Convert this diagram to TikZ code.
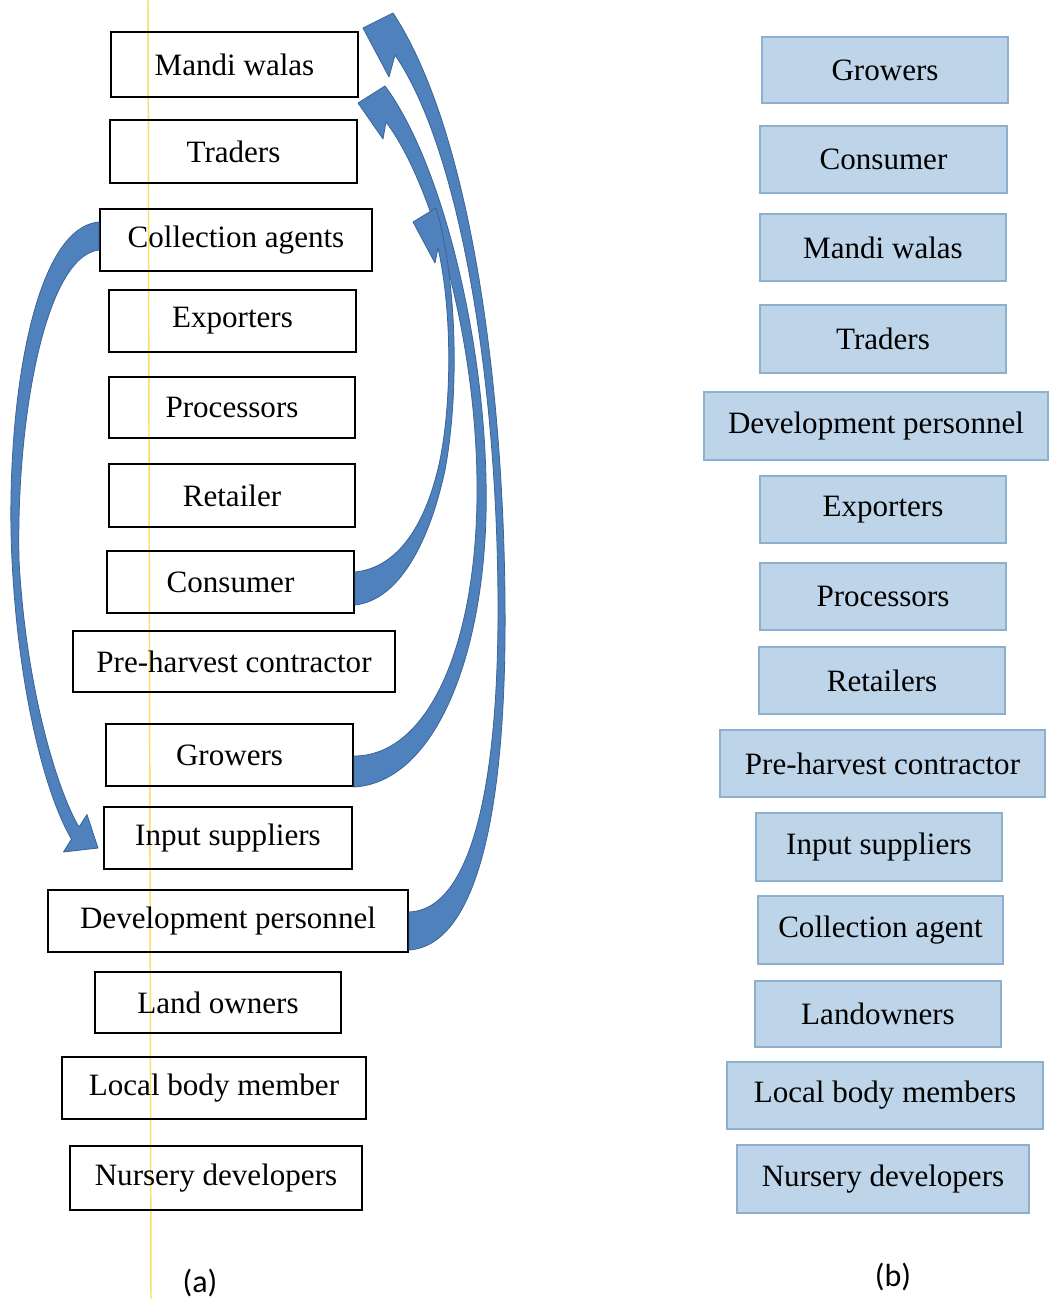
\documentclass[tikz,border=0pt]{standalone}
\usepackage{fontspec}
\setmainfont{Liberation Serif}
\newfontfamily\labfont{Carlito}
\usetikzlibrary{calc}
\definecolor{arrowblue}{RGB}{79,129,189}
\definecolor{arrowedge}{RGB}{60,100,150}
\definecolor{boxfill}{RGB}{190,213,233}
\definecolor{boxedge}{RGB}{140,176,206}
\definecolor{scanline}{RGB}{252,222,100}
\begin{document}
\begin{tikzpicture}[x=0.75pt,y=-0.75pt,
  sz/.style 2 args={minimum width=#1*0.75pt,minimum height=#2*0.75pt},
  lbox/.style={draw=black,line width=1.5pt,inner sep=0pt,font=\fontsize{23.3}{28}\selectfont},
  rbox/.style={draw=boxedge,fill=boxfill,line width=1pt,inner sep=0pt,font=\fontsize{23.3}{28}\selectfont},
  blockarrow/.style={fill=arrowblue,draw=arrowedge,line width=0.6pt,line join=round},
  caption/.style={font=\labfont\fontsize{24}{28}\selectfont,inner sep=0pt}]
\useasboundingbox (0,0) rectangle (1057,1299);
\fill[white] (0,0) rectangle (1057,1299);
% scan line
\draw[scanline,line width=1.1pt] (148,0) -- (151,1299);
% left column
\node[lbox,sz={247}{65}] (lmandi) at (234.5,64.5) {Mandi walas};
\node[lbox,sz={247}{63}] (ltrad) at (233.5,151.5) {Traders};
\node[lbox,sz={272}{62}] (lcoll) at (236,240) {Collection agents};
\node[lbox,sz={247}{62}] (lexp) at (232.5,321) {Exporters};
\node[lbox,sz={246}{61}] (lproc) at (232,407.5) {Processors};
\node[lbox,sz={246}{63}] (lret) at (232,495.5) {Retailer};
\node[lbox,sz={247}{62}] (lcons) at (230.5,582) {Consumer};
\node[lbox,sz={322}{61}] (lpre) at (234,661.5) {Pre-harvest contractor};
\node[lbox,sz={247}{62}] (lgrow) at (229.5,755) {Growers};
\node[lbox,sz={248}{62}] (linput) at (228,838) {Input suppliers};
\node[lbox,sz={360}{62}] (ldev) at (228,921) {Development personnel};
\node[lbox,sz={246}{61}] (lland) at (218,1002.5) {Land owners};
\node[lbox,sz={304}{62}] (llocal) at (214,1088) {Local body member};
\node[lbox,sz={292}{64}] (lnurs) at (216,1178) {Nursery developers};
% right column
\node[rbox,sz={246}{66}] (rgrow) at (885,70) {Growers};
\node[rbox,sz={247}{67}] (rcons) at (883.5,159.5) {Consumer};
\node[rbox,sz={246}{67}] (rmandi) at (883,247.5) {Mandi walas};
\node[rbox,sz={246}{68}] (rtrad) at (883,339) {Traders};
\node[rbox,sz={344}{68}] (rdev) at (876,426) {Development personnel};
\node[rbox,sz={246}{67}] (rexp) at (883,509.5) {Exporters};
\node[rbox,sz={246}{67}] (rproc) at (883,596.5) {Processors};
\node[rbox,sz={246}{67}] (rret) at (882,680.5) {Retailers};
\node[rbox,sz={325}{67}] (rpre) at (882.5,763.5) {Pre-harvest contractor};
\node[rbox,sz={246}{68}] (rinput) at (879,847) {Input suppliers};
\node[rbox,sz={245}{68}] (rcoll) at (880.5,930) {Collection agent};
\node[rbox,sz={246}{66}] (rland) at (878,1014) {Landowners};
\node[rbox,sz={316}{67}] (rlocal) at (885,1095.5) {Local body members};
\node[rbox,sz={292}{68}] (rnurs) at (883,1179) {Nursery developers};
% arrows
% Collection agents -> Input suppliers
\draw[blockarrow] ($(lcoll.west)+(0,-18)$) .. controls (30,228) and (5,420) .. (12,560)
  .. controls (19,700) and (48,800) .. (71.5,839) -- (63.5,852) -- ($(linput.west)+(-5,10)$)
  -- (87,814.5) -- (79,827) .. controls (58,792) and (26,690) .. (19,560)
  .. controls (16,420) and (45,256) .. ($(lcoll.west)+(0,10)$) -- cycle;
% Development personnel -> Mandi walas
\draw[blockarrow] ($(ldev.east)+(0,29)$) .. controls (480,945) and (507,800) .. (505,600)
  .. controls (503,380) and (470,130) .. (393,13) -- ($(lmandi.east)+(4,-36.5)$)
  -- (389,77) -- (395,55) .. controls (460,150) and (497,380) .. (498,600)
  .. controls (499,790) and (470,910) .. ($(ldev.east)+(0,-9)$) -- cycle;
% Growers -> Traders
\draw[blockarrow] ($(lgrow.east)+(0,32)$) .. controls (440,782) and (490,640) .. (486,480)
  .. controls (483,330) and (440,160) .. (385,86) -- ($(ltrad.east)+(0,-48.5)$)
  -- (383,139) -- (386,122) .. controls (430,180) and (475,330) .. (477,480)
  .. controls (479,640) and (430,756) .. ($(lgrow.east)+(0,1)$) -- cycle;
% Consumer -> Collection agents
\draw[blockarrow] ($(lcons.east)+(0,23)$) .. controls (400,600) and (430,540) .. (445,470)
  .. controls (458,400) and (458,300) .. (440,222) -- (436,208) -- ($(lcoll.east)+(40,-18)$)
  -- (435,263) -- (438,248) .. controls (452,310) and (452,400) .. (440,460)
  .. controls (425,530) and (395,568) .. ($(lcons.east)+(0,-10)$) -- cycle;
% captions
\node[caption] (capa) at (200,1283) {(a)};
\node[caption] (capb) at (893,1277) {(b)};
\end{tikzpicture}
\end{document}
